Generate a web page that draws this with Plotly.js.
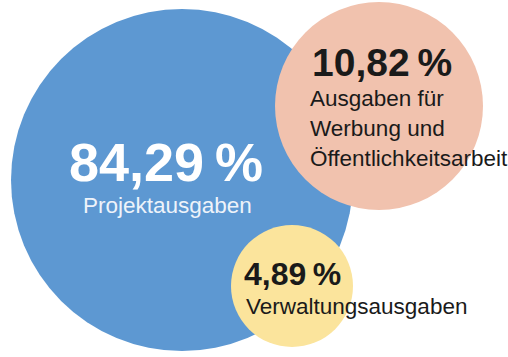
<!DOCTYPE html>
<html>
<head>
<meta charset="utf-8">
<script src="https://cdn.plot.ly/plotly-3.0.1.min.js"></script>
<style>html,body{margin:0;padding:0;background:#fff;}#chart{width:508px;height:357px;}</style>
</head>
<body>
<div id="chart"></div>
<script>
// Data
const categories = ['Projektausgaben', 'Ausgaben für Werbung und Öffentlichkeitsarbeit', 'Verwaltungsausgaben'];
const labelLines = [['Projektausgaben'], ['Ausgaben für', 'Werbung und', 'Öffentlichkeitsarbeit'], ['Verwaltungsausgaben']];
const values = [84.29, 10.82, 4.89];

// Layout geometry (pixel space)
const circles = [
  {cx: 182, cy: 180, r: 171, color: '#5d98d2'},
  {cx: 379, cy: 106, r: 104, color: '#f1c2ae'},
  {cx: 292, cy: 286, r: 61, color: '#fbe49c'}
];
const valueStyle = [
  {x: 166, y: 162, size: 54, color: '#ffffff', anchor: 'center'},
  {x: 382, y: 62, size: 39, color: '#1a1a1a', anchor: 'center'},
  {x: 292, y: 274, size: 32, color: '#1a1a1a', anchor: 'center'}
];
const labelStyle = [
  {x: 167, y: 205, size: 22.5, color: '#eef3fa', anchor: 'center', dy: 0},
  {x: 308, y: 98, size: 22.5, color: '#1a1a1a', anchor: 'left', dy: 30},
  {x: 244, y: 306, size: 22.5, color: '#1a1a1a', anchor: 'left', dy: 0}
];

function fmt(v) { return v.toFixed(2).replace('.', ',') + '\u2009%'; }

const shapes = circles.map(c => ({
  type: 'circle', xref: 'x', yref: 'y',
  x0: c.cx - c.r, x1: c.cx + c.r, y0: c.cy - c.r, y1: c.cy + c.r,
  fillcolor: c.color, line: {width: 0}, layer: 'above'
}));

const annotations = [];
values.forEach((v, i) => {
  const s = valueStyle[i];
  annotations.push({
    x: s.x, y: s.y, xref: 'x', yref: 'y', showarrow: false,
    xanchor: s.anchor, yanchor: 'middle',
    text: '<b>' + fmt(v) + '</b>',
    font: {family: 'Liberation Sans, Arial, sans-serif', size: s.size, color: s.color}
  });
  const l = labelStyle[i];
  labelLines[i].forEach((line, j) => {
    annotations.push({
      x: l.x, y: l.y + j * l.dy, xref: 'x', yref: 'y', showarrow: false,
      xanchor: l.anchor, yanchor: 'middle', text: line,
      font: {family: 'Liberation Sans, Arial, sans-serif', size: l.size, color: l.color}
    });
  });
});

Plotly.newPlot('chart', [], {
  width: 508, height: 357,
  margin: {l: 0, r: 0, t: 0, b: 0},
  paper_bgcolor: '#ffffff', plot_bgcolor: '#ffffff',
  xaxis: {range: [0, 508], visible: false, fixedrange: true},
  yaxis: {range: [357, 0], visible: false, fixedrange: true},
  shapes: shapes,
  annotations: annotations,
  showlegend: false
}, {displayModeBar: false, staticPlot: true});
</script>
</body>
</html>
